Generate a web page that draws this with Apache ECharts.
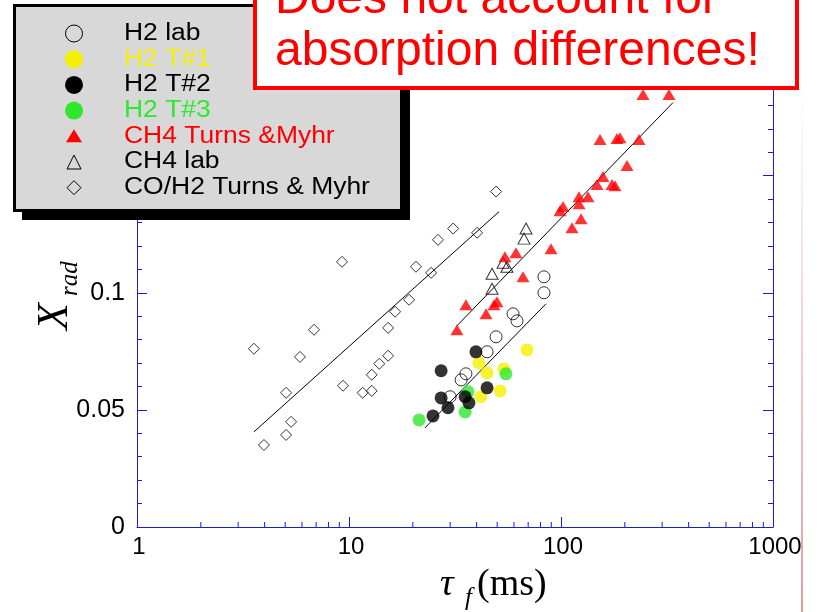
<!DOCTYPE html>
<html>
<head>
<meta charset="utf-8">
<script src="https://cdn.jsdelivr.net/npm/echarts@6/dist/echarts.min.js"></script>
<style>
  html, body { margin: 0; padding: 0; background: #ffffff; }
  #chart { width: 817px; height: 612px; }
</style>
</head>
<body>
<div id="chart"></div>
<script>
// Radiant fraction X_rad against flame residence time tau_f (ms)

// Tick labels
const yTickLabels = ['0', '0.05', '0.1', '0.15', '0.2'];
const xTickLabels = { 1: '1', 10: '10', 100: '100', 1000: '1000' };
const xMinorTicks = [2, 3, 4, 5, 6, 7, 8, 9, 20, 30, 40, 50, 60, 70, 80, 90, 200, 300, 400, 500, 600, 700, 800, 900];

// [tau_f (ms), X_rad]
const h2Lab = [
  [83.1, 0.1068], [83.1, 0.1000], [59.4, 0.0910], [62.0, 0.0880], [49.4, 0.0812],
  [44.8, 0.0748], [35.6, 0.0654], [33.8, 0.0628], [30.0, 0.0556]
];
const h2T1 = [
  [69.1, 0.0756], [41.0, 0.0701], [44.8, 0.0658], [53.8, 0.0675], [51.6, 0.0581], [41.9, 0.0556]
];
const h2T2 = [
  [39.7, 0.0748], [27.2, 0.0667], [44.8, 0.0594], [27.2, 0.0551], [29.3, 0.0509],
  [24.9, 0.0474], [35.3, 0.0556], [36.8, 0.0530]
];
const h2T3 = [
  [55.0, 0.0654], [36.4, 0.0577], [35.3, 0.0491], [21.4, 0.0457]
];
const ch4TurnsMyhr = [
  [32.3, 0.0842], [35.6, 0.0949], [44.3, 0.0910], [48.3, 0.0949], [49.9, 0.0962],
  [54.4, 0.1154], [61.3, 0.1171], [66.2, 0.1068], [89.7, 0.1188], [98.9, 0.1350],
  [102.2, 0.1368], [112.7, 0.1278], [121.6, 0.1380], [121.6, 0.1410], [124.3, 0.1316],
  [134.1, 0.1410], [147.8, 0.1462], [157.8, 0.1496], [174.0, 0.1462], [179.8, 0.1457],
  [152.8, 0.1654], [183.7, 0.1658], [189.8, 0.1662], [204.8, 0.1543], [233.3, 0.1654],
  [243.7, 0.1846], [323.2, 0.1846]
];
const ch4Lab = [
  [68.4, 0.1274], [66.9, 0.1231], [53.3, 0.1128], [55.6, 0.1111], [47.3, 0.1081], [47.3, 0.1017]
];
const coH2TurnsMyhr = [
  [3.56, 0.0761], [3.97, 0.0350], [5.05, 0.0573], [5.05, 0.0393], [5.33, 0.0449],
  [5.87, 0.0726], [6.84, 0.0842], [9.27, 0.1132], [9.37, 0.0603], [11.6, 0.0573],
  [12.8, 0.0581], [12.8, 0.0650], [13.9, 0.0697], [15.3, 0.0731], [15.3, 0.0850],
  [16.5, 0.0919], [19.2, 0.0970], [20.7, 0.1111], [24.4, 0.1085], [26.3, 0.1226],
  [31.0, 0.1274], [40.2, 0.1256], [49.4, 0.1432]
];

// Fitted trend lines (end points)
const fitCoH2 = [[3.56, 0.0406], [51.0, 0.1346]];
const fitCh4 = [[32.3, 0.0859], [337.6, 0.1812]];
const fitH2 = [[22.8, 0.0423], [85.0, 0.0953]];

const BLUE = '#1c1cd4';
const YELLOW = '#f5f000';
const GREEN = '#2ee82e';
const RED = '#ff0000';
const SANS = '"Liberation Sans", Arial, sans-serif';
const SERIF = '"Liberation Serif", "Times New Roman", serif';

function scatter(name, data, symbol, size, itemStyle) {
  return {
    name: name, type: 'scatter', data: data, symbol: symbol, symbolSize: size,
    itemStyle: itemStyle, silent: true, z: 3
  };
}
function fitLine(data) {
  return {
    type: 'line', data: data, symbol: 'none', silent: true, z: 2,
    lineStyle: { color: '#000', width: 1 }
  };
}

const openStyle = { color: 'rgba(0,0,0,0)', borderColor: '#000', borderWidth: 1 };

// Legend block drawn as graphics
const legendRows = [
  { label: 'H2 lab', color: '#000', mark: 'openCircle' },
  { label: 'H2 T#1', color: YELLOW, mark: 'circle', fill: YELLOW },
  { label: 'H2 T#2', color: '#000', mark: 'circle', fill: '#000' },
  { label: 'H2 T#3', color: GREEN, mark: 'circle', fill: GREEN },
  { label: 'CH4 Turns &Myhr', color: RED, mark: 'triangle', fill: RED },
  { label: 'CH4 lab', color: '#000', mark: 'openTriangle' },
  { label: 'CO/H2 Turns & Myhr', color: '#000', mark: 'diamond' }
];
const legendGraphics = [
  { type: 'rect', z: 100, shape: { x: 22, y: 13, width: 388, height: 207 }, style: { fill: '#000' } },
  { type: 'rect', z: 101, shape: { x: 14.5, y: 5.5, width: 387, height: 205 },
    style: { fill: '#d8d8d8', stroke: '#000', lineWidth: 3 } }
];
legendRows.forEach(function (row, i) {
  const cy = 33.5 + i * 25.7;
  const cx = 74;
  let mark;
  if (row.mark === 'openCircle') {
    mark = { type: 'circle', shape: { cx: cx, cy: cy, r: 8.5 }, style: { fill: 'none', stroke: '#000', lineWidth: 1 } };
  } else if (row.mark === 'circle') {
    mark = { type: 'circle', shape: { cx: cx, cy: cy, r: 9 }, style: { fill: row.fill } };
  } else if (row.mark === 'triangle') {
    mark = { type: 'polygon', shape: { points: [[cx, cy - 7], [cx + 8, cy + 6], [cx - 8, cy + 6]] }, style: { fill: row.fill } };
  } else if (row.mark === 'openTriangle') {
    mark = { type: 'polygon', shape: { points: [[cx, cy - 7], [cx + 7, cy + 7], [cx - 7, cy + 7]] }, style: { fill: 'none', stroke: '#000', lineWidth: 1 } };
  } else {
    mark = { type: 'polygon', shape: { points: [[cx, cy - 7], [cx + 7, cy], [cx, cy + 7], [cx - 7, cy]] }, style: { fill: 'none', stroke: '#000', lineWidth: 1 } };
  }
  mark.z = 102;
  legendGraphics.push(mark);
  legendGraphics.push({
    type: 'text', z: 102, x: 124, y: cy, scaleX: 1.15,
    style: { text: row.label, fill: row.color, font: '23px ' + SANS, align: 'left', verticalAlign: 'middle' }
  });
});

// Callout box
const calloutGraphics = [
  { type: 'rect', z: 110, shape: { x: 255, y: -10, width: 542, height: 98 },
    style: { fill: '#ffffff', stroke: RED, lineWidth: 4 } },
  { type: 'text', z: 111, x: 275, y: 0,
    style: { text: 'Does not account for', fill: RED, font: '48px ' + SANS, align: 'left', verticalAlign: 'middle' } },
  { type: 'text', z: 111, x: 275, y: 52,
    style: { text: 'absorption differences!', fill: RED, font: '48px ' + SANS, align: 'left', verticalAlign: 'middle' } }
];

// Axis titles
const titleGraphics = [
  { type: 'text', z: 50, x: 55, y: 330, rotation: Math.PI / 2,
    style: { text: 'X', fill: '#000', font: 'italic 44px ' + SERIF, align: 'left', verticalAlign: 'middle' } },
  { type: 'text', z: 50, x: 70, y: 296, rotation: Math.PI / 2,
    style: { text: 'rad', fill: '#000', font: 'italic 25px ' + SERIF, align: 'left', verticalAlign: 'middle' } },
  { type: 'text', z: 50, x: 440, y: 585,
    style: { text: 'τ', fill: '#000', font: 'italic 38px ' + SERIF, align: 'left', verticalAlign: 'middle' } },
  { type: 'text', z: 50, x: 465, y: 598,
    style: { text: 'f', fill: '#000', font: 'italic 25px ' + SERIF, align: 'left', verticalAlign: 'middle' } },
  { type: 'text', z: 50, x: 477, y: 585,
    style: { text: '(ms)', fill: '#000', font: '38px ' + SERIF, align: 'left', verticalAlign: 'middle' } }
];

const edgeGraphics = [
  { type: 'line', z: 5, shape: { x1: 802, y1: 80, x2: 802, y2: 612 },
    style: { lineWidth: 2, stroke: new echarts.graphic.LinearGradient(0, 0, 0, 1, [
      { offset: 0, color: 'rgba(220,140,140,0)' },
      { offset: 1, color: 'rgba(215,120,120,0.75)' }
    ]) } }
];

const yAxisCommon = {
  type: 'value', min: 0, max: 0.2, interval: 0.05,
  axisLine: { show: true, lineStyle: { color: BLUE, width: 1 } },
  axisTick: { show: true, inside: true, length: 10, lineStyle: { color: BLUE } },
  minorTick: { show: true, splitNumber: 5, length: 5, lineStyle: { color: BLUE } },
  splitLine: { show: false }, minorSplitLine: { show: false }
};

const chart = echarts.init(document.getElementById('chart'), null, { renderer: 'canvas' });
chart.setOption({
  animation: false,
  backgroundColor: '#ffffff',
  grid: { left: 137, right: 44, top: 58.5, bottom: 85, containLabel: false },
  xAxis: {
    type: 'log', logBase: 10, min: 1, max: 1000, position: 'bottom',
    axisLine: { show: true, lineStyle: { color: BLUE, width: 1 } },
    axisTick: { show: true, inside: true, length: 10, lineStyle: { color: BLUE } },
    axisLabel: { show: true, color: '#000', fontSize: 24, fontFamily: SANS, margin: 8, padding: [0, 0, 0, 4],
      formatter: function (v) { return xTickLabels[Math.round(v)] || String(Math.round(v)); } },
    splitLine: { show: false }
  },
  yAxis: [
    Object.assign({}, yAxisCommon, {
      position: 'left',
      axisLabel: { show: true, color: '#000', fontSize: 25, fontFamily: SANS, margin: 12,
        formatter: function (v) { return yTickLabels[Math.round(v / 0.05)]; } }
    }),
    Object.assign({}, yAxisCommon, {
      position: 'right',
      axisLabel: { show: false }
    })
  ],
  series: [
    {
      // minor ticks of the logarithmic time axis
      type: 'custom', silent: true, z: 4,
      data: xMinorTicks.map(function (v) { return [v, 0]; }),
      encode: { x: 0, y: 1 },
      renderItem: function (params, api) {
        const p = api.coord([api.value(0), api.value(1)]);
        return { type: 'line', shape: { x1: p[0], y1: p[1], x2: p[0], y2: p[1] - 5 },
          style: { stroke: BLUE, lineWidth: 1 } };
      }
    },
    fitLine(fitCoH2),
    fitLine(fitCh4),
    fitLine(fitH2),
    scatter('CO/H2 Turns & Myhr', coH2TurnsMyhr, 'diamond', [11, 11], openStyle),
    scatter('CH4 lab', ch4Lab, 'triangle', [12, 11], openStyle),
    scatter('CH4 Turns &Myhr', ch4TurnsMyhr, 'triangle', [13, 11], { color: RED }),
    scatter('H2 T#1', h2T1, 'circle', 13, { color: YELLOW }),
    scatter('H2 T#3', h2T3, 'circle', 13, { color: GREEN }),
    scatter('H2 T#2', h2T2, 'circle', 13, { color: '#000' }),
    scatter('H2 lab', h2Lab, 'circle', 12, openStyle)
  ],
  graphic: { elements: edgeGraphics.concat(titleGraphics, legendGraphics, calloutGraphics) }
});
</script>
</body>
</html>
